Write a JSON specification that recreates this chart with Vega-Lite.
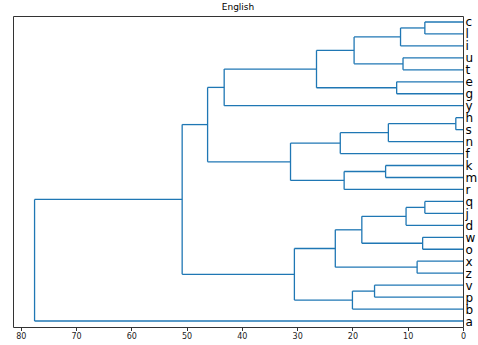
{
  "$schema": "https://vega.github.io/schema/vega-lite/v6.json",
  "width": 450,
  "height": 311,
  "autosize": {"type": "none"},
  "padding": {"left": 13, "top": 16, "right": 15, "bottom": 18},
  "config": {
    "font": "DejaVu Sans",
    "view": {"stroke": "#333333", "strokeWidth": 1},
    "axis": {"labelOverlap": false, "labelFlush": false, "grid": false, "domain": false}
  },
  "title": {
    "text": "English",
    "fontSize": 9,
    "fontWeight": "normal",
    "font": "DejaVu Sans",
    "color": "#000000",
    "offset": 4
  },
  "data": {
    "values": [
      {"link": 1, "y1": 255, "y2": 245, "h1": 0, "h2": 0, "h": 6.9},
      {"link": 2, "y1": 250, "y2": 235, "h1": 6.9, "h2": 0, "h": 11.3},
      {"link": 3, "y1": 225, "y2": 215, "h1": 0, "h2": 0, "h": 10.85},
      {"link": 4, "y1": 242.5, "y2": 220, "h1": 11.3, "h2": 10.85, "h": 19.7},
      {"link": 5, "y1": 205, "y2": 195, "h1": 0, "h2": 0, "h": 12.0},
      {"link": 6, "y1": 231.25, "y2": 200, "h1": 19.7, "h2": 12.0, "h": 26.5},
      {"link": 7, "y1": 215.625, "y2": 185, "h1": 26.5, "h2": 0, "h": 43.2},
      {"link": 8, "y1": 175, "y2": 165, "h1": 0, "h2": 0, "h": 1.3},
      {"link": 9, "y1": 170, "y2": 155, "h1": 1.3, "h2": 0, "h": 13.5},
      {"link": 10, "y1": 162.5, "y2": 145, "h1": 13.5, "h2": 0, "h": 22.2},
      {"link": 11, "y1": 135, "y2": 125, "h1": 0, "h2": 0, "h": 14.0},
      {"link": 12, "y1": 130, "y2": 115, "h1": 14.0, "h2": 0, "h": 21.5},
      {"link": 13, "y1": 153.75, "y2": 122.5, "h1": 22.2, "h2": 21.5, "h": 31.2},
      {"link": 14, "y1": 200.3125, "y2": 138.125, "h1": 43.2, "h2": 31.2, "h": 46.2},
      {"link": 15, "y1": 105, "y2": 95, "h1": 0, "h2": 0, "h": 6.9},
      {"link": 16, "y1": 100, "y2": 85, "h1": 6.9, "h2": 0, "h": 10.3},
      {"link": 17, "y1": 75, "y2": 65, "h1": 0, "h2": 0, "h": 7.3},
      {"link": 18, "y1": 92.5, "y2": 70, "h1": 10.3, "h2": 7.3, "h": 18.3},
      {"link": 19, "y1": 55, "y2": 45, "h1": 0, "h2": 0, "h": 8.3},
      {"link": 20, "y1": 81.25, "y2": 50, "h1": 18.3, "h2": 8.3, "h": 23.1},
      {"link": 21, "y1": 35, "y2": 25, "h1": 0, "h2": 0, "h": 16.0},
      {"link": 22, "y1": 30, "y2": 15, "h1": 16.0, "h2": 0, "h": 20.0},
      {"link": 23, "y1": 65.625, "y2": 22.5, "h1": 23.1, "h2": 20.0, "h": 30.5},
      {"link": 24, "y1": 169.21875, "y2": 44.0625, "h1": 46.2, "h2": 30.5, "h": 50.8},
      {"link": 25, "y1": 106.640625, "y2": 5, "h1": 50.8, "h2": 0, "h": 77.5}
    ]
  },
  "encoding": {
    "x": {
      "type": "quantitative",
      "scale": {"domain": [0, 81.4], "reverse": true, "nice": false, "zero": false},
      "axis": {
        "title": null,
        "values": [0, 10, 20, 30, 40, 50, 60, 70, 80],
        "tickSize": 3.5,
        "tickColor": "#333333",
        "labelFontSize": 8,
        "labelColor": "#222222",
        "labelPadding": 2,
        "labelFont": "DejaVu Sans"
      }
    },
    "y": {
      "type": "quantitative",
      "scale": {"domain": [0, 260], "nice": false, "zero": false},
      "axis": {
        "orient": "right",
        "title": null,
        "values": [5, 15, 25, 35, 45, 55, 65, 75, 85, 95, 105, 115, 125, 135, 145, 155, 165, 175, 185, 195, 205, 215, 225, 235, 245, 255],
        "labelExpr": "['a','b','p','v','z','x','o','w','d','j','q','r','m','k','f','n','s','h','y','g','e','t','u','i','l','c'][round((datum.value - 5) / 10)]",
        "labelOverlap": false,
        "labelBound": false,
        "ticks": false,
        "labelFontSize": 12,
        "labelColor": "#000000",
        "labelPadding": 2,
        "labelFont": "DejaVu Sans"
      }
    }
  },
  "layer": [
    {
      "mark": {"type": "rule", "color": "#1f77b4", "strokeWidth": 1.3},
      "encoding": {
        "x": {"field": "h1"},
        "x2": {"field": "h"},
        "y": {"field": "y1"}
      }
    },
    {
      "mark": {"type": "rule", "color": "#1f77b4", "strokeWidth": 1.3},
      "encoding": {
        "x": {"field": "h"},
        "y": {"field": "y1"},
        "y2": {"field": "y2"}
      }
    },
    {
      "mark": {"type": "rule", "color": "#1f77b4", "strokeWidth": 1.3},
      "encoding": {
        "x": {"field": "h2"},
        "x2": {"field": "h"},
        "y": {"field": "y2"}
      }
    }
  ]
}
